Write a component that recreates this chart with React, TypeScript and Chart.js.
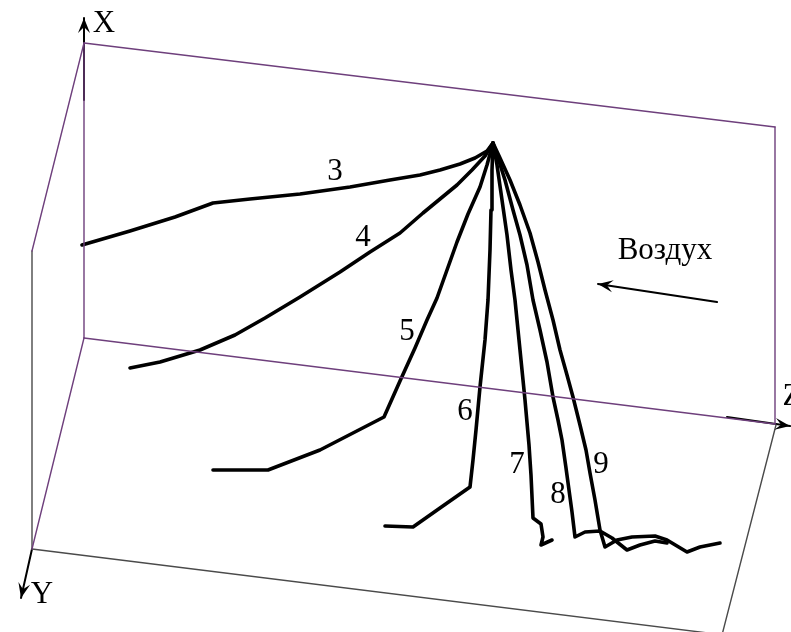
import React, { useEffect, useRef } from 'react';
import { Chart, registerables } from 'chart.js';

Chart.register(...registerables);

type P = [number, number];

// Scene extent (x to the right, y downward)
const sceneW = 791;
const sceneH = 632;

// Jet profiles, all starting from the nozzle point
const profile3: P[] = [[82, 245], [130, 231], [175, 217], [213, 203], [250, 199], [300, 194], [350, 187], [390, 180], [420, 175], [440, 170], [460, 164], [475, 158], [487, 151], [493, 143]];
const profile4: P[] = [[130, 368], [160, 362], [200, 350], [235, 335], [265, 318], [300, 297], [340, 272], [370, 252], [400, 233], [423, 213], [440, 199], [457, 185], [472, 170], [485, 156], [493, 143]];
const profile5: P[] = [[213, 470], [268, 470], [320, 450], [384, 417], [400, 381], [415, 348], [427, 320], [437, 298], [447, 270], [457, 242], [468, 214], [480, 187], [487, 165], [493, 143]];
const profile6: P[] = [[385, 526], [413, 527], [440, 508], [470, 487], [473, 460], [476, 430], [480, 387], [485, 340], [488, 300], [490, 250], [491, 210], [492, 170], [493, 143]];
const profile7: P[] = [[493, 143], [497, 165], [502, 200], [507, 235], [511, 270], [515, 300], [520, 350], [525, 400], [529, 445], [531, 475], [533, 518], [541, 524], [543, 537], [541, 545], [552, 540]];
const profile8: P[] = [[493, 143], [498, 158], [505, 180], [513, 210], [520, 235], [527, 265], [533, 300], [540, 330], [547, 362], [553, 397], [558, 420], [562, 440], [566, 468], [569, 490], [572, 512], [575, 537], [585, 532], [600, 531], [612, 538], [627, 550], [640, 545], [655, 541], [667, 543]];
const profile9: P[] = [[493, 143], [500, 158], [510, 180], [520, 205], [530, 233], [538, 262], [545, 290], [553, 320], [560, 350], [567, 375], [573, 397], [580, 425], [586, 450], [590, 473], [595, 500], [598, 518], [600, 530], [605, 547], [617, 540], [632, 537], [655, 536], [667, 540], [687, 552], [700, 547], [720, 543]];
const profiles = [profile3, profile4, profile5, profile6, profile7, profile8, profile9];
const profileNames = ['3', '4', '5', '6', '7', '8', '9'];
const profileLabelAt: P[] = [[335, 171], [363, 237], [407, 331], [465, 411], [517, 464], [558, 494], [601, 464]];

// Box edges: back walls (purple) and front edges (grey)
const backEdges: P[][] = [
  [[84, 43], [775, 127]],
  [[775, 127], [775, 424]],
  [[84, 338], [775, 424]],
  [[84, 43], [84, 338]],
  [[84, 43], [32, 251]],
  [[84, 338], [32, 549]],
];
const frontEdges: P[][] = [
  [[32, 251], [32, 549]],
  [[32, 549], [708, 633]],
  [[776, 425], [722, 635]],
];

// Axis arrows and the air flow arrow: [tail, tip]
const arrows: P[][] = [
  [[84, 100], [84, 18]],
  [[32, 549], [21, 598]],
  [[727, 417], [790, 426]],
  [[717, 302], [598, 284]],
];
const axisNames = ['X', 'Y', 'Z'];
const axisLabelAt: P[] = [[104, 23], [42, 594], [792, 396]];
const airLabel = 'Воздух';
const airLabelAt: P = [665, 250];

const PURPLE = '#6e3f7c';
const GREY = '#4a4a4a';
const FONT = '31px "Liberation Serif", "Times New Roman", serif';

const toXY = (pts: P[]) => pts.map(([x, y]) => ({ x, y }));

const annotate = {
  id: 'annotate',
  afterDatasetsDraw(chart: Chart) {
    const { ctx } = chart;
    const sx = chart.scales.x;
    const sy = chart.scales.y;
    const px = (p: P) => [sx.getPixelForValue(p[0]), sy.getPixelForValue(p[1])];
    ctx.save();
    // arrow heads
    ctx.fillStyle = '#000';
    arrows.forEach(([a, b]) => {
      const [x0, y0] = px(a);
      const [x1, y1] = px(b);
      const ang = Math.atan2(y1 - y0, x1 - x0);
      const len = 15;
      const half = 6;
      const notch = 9;
      ctx.save();
      ctx.translate(x1, y1);
      ctx.rotate(ang);
      ctx.beginPath();
      ctx.moveTo(0, 0);
      ctx.lineTo(-len, -half);
      ctx.lineTo(-notch, 0);
      ctx.lineTo(-len, half);
      ctx.closePath();
      ctx.fill();
      ctx.restore();
    });
    // text
    ctx.font = FONT;
    ctx.fillStyle = '#000';
    ctx.textBaseline = 'middle';
    ctx.textAlign = 'center';
    profileNames.forEach((t, i) => {
      const [x, y] = px(profileLabelAt[i]);
      ctx.fillText(t, x, y + 1);
    });
    axisNames.forEach((t, i) => {
      const [x, y] = px(axisLabelAt[i]);
      ctx.fillText(t, x, y + 1);
    });
    const [ax, ay] = px(airLabelAt);
    ctx.fillText(airLabel, ax, ay + 1);
    ctx.restore();
  },
};

export default function App() {
  const ref = useRef<HTMLCanvasElement | null>(null);

  useEffect(() => {
    if (!ref.current) return;
    const lineSet = (pts: P[], color: string, width: number) => ({
      data: toXY(pts),
      showLine: true,
      borderColor: color,
      backgroundColor: color,
      borderWidth: width,
      pointRadius: 0,
      tension: 0,
      clip: false as const,
      borderJoinStyle: 'round' as const,
      borderCapStyle: 'round' as const,
    });
    const datasets = [
      ...backEdges.map((e) => lineSet(e, PURPLE, 1.4)),
      ...frontEdges.map((e) => lineSet(e, GREY, 1.4)),
      ...arrows.map((a) => lineSet(a, '#000', 2)),
      ...profiles.map((p) => lineSet(p, '#000', 3.6)),
    ];
    const chart = new Chart(ref.current, {
      type: 'scatter',
      data: { datasets },
      options: {
        animation: false,
        responsive: false,
        events: [],
        layout: { padding: 0 },
        plugins: { legend: { display: false }, tooltip: { enabled: false } },
        scales: {
          x: { type: 'linear', min: 0, max: sceneW, display: false },
          y: { type: 'linear', min: 0, max: sceneH, reverse: true, display: false },
        },
      },
      plugins: [annotate],
    });
    return () => chart.destroy();
  }, []);

  return (
    <div style={{ position: 'absolute', left: 0, top: 0, width: sceneW, height: sceneH, background: '#fff' }}>
      <canvas ref={ref} width={sceneW} height={sceneH} style={{ display: 'block' }} />
    </div>
  );
}
